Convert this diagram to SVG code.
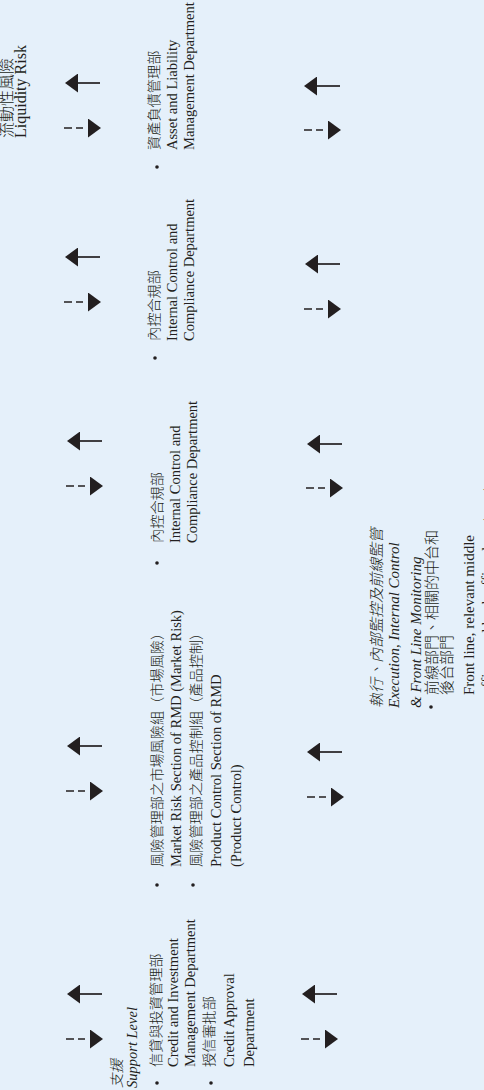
<svg xmlns="http://www.w3.org/2000/svg" width="484" height="1090" viewBox="0 0 484 1090">
<defs>
<style>
.t{font-family:"Liberation Serif","Noto Sans CJK TC",serif;font-size:14.5px;fill:#231F20}
.zh{font-size:14.2px;font-weight:300}
.lt{font-weight:300}
.it{font-style:italic}
.h{font-size:16px}
.r{font-size:15px}
.sol{stroke:#231F20;stroke-width:1.7;fill:none;marker-end:url(#head)}
.dsh{stroke:#231F20;stroke-width:1.7;fill:none;stroke-dasharray:8 4 7 5;marker-end:url(#head)}
.bul{fill:#231F20}
</style>
<marker id="head" viewBox="0 0 13 19" markerWidth="13" markerHeight="19" refX="0" refY="9.5" orient="auto" markerUnits="userSpaceOnUse">
<path d="M0,0 L13,9.5 L0,19 Z" fill="#231F20"/>
</marker>
</defs>
<rect width="484" height="1090" fill="#E5F0FA"/>

<g id="connectors">
<path class="sol" d="M100,83 H78"/>
<path class="dsh" d="M64,128 H88"/>
<path class="sol" d="M100,257 H78"/>
<path class="dsh" d="M64,302 H88"/>
<path class="sol" d="M102,441 H80"/>
<path class="dsh" d="M66,486 H90"/>
<path class="sol" d="M102,746 H80"/>
<path class="dsh" d="M66,791 H90"/>
<path class="sol" d="M102,994 H80"/>
<path class="dsh" d="M66,1039 H90"/>

<path class="sol" d="M340,86 H317"/>
<path class="dsh" d="M304,130 H328"/>
<path class="sol" d="M340,264 H318"/>
<path class="dsh" d="M304,309 H328"/>
<path class="sol" d="M342,444 H320"/>
<path class="dsh" d="M306,488 H330"/>
<path class="sol" d="M342,752 H320"/>
<path class="dsh" d="M307,797 H331"/>
<path class="sol" d="M337,994 H315"/>
<path class="dsh" d="M301,1039 H325"/>
</g>

<g id="node-liquidity">
<text class="t h" transform="translate(0,138) rotate(-90)"><tspan class="lt" x="0" y="12">流動性風險</tspan><tspan x="0" y="25.5">Liquidity Risk</tspan></text>
</g>

<g id="node-alm">
<circle class="bul" cx="157" cy="167" r="1.8"/>
<text class="t" transform="translate(0,150) rotate(-90)"><tspan class="zh" x="0" y="158.5">資產負債管理部</tspan><tspan x="0" y="176.5">Asset and Liability</tspan><tspan x="0" y="194">Management Department</tspan></text>
</g>

<g id="node-icd-1">
<circle class="bul" cx="155" cy="358" r="1.8"/>
<text class="t" transform="translate(0,341) rotate(-90)"><tspan class="zh" x="0" y="158.5">內控合規部</tspan><tspan x="0" y="176.5">Internal Control and</tspan><tspan x="0" y="194">Compliance Department</tspan></text>
</g>

<g id="node-icd-2">
<circle class="bul" cx="157" cy="563" r="1.8"/>
<text class="t" transform="translate(0,543) rotate(-90)"><tspan class="zh" x="0" y="162">內控合規部</tspan><tspan x="0" y="179.5">Internal Control and</tspan><tspan x="0" y="197">Compliance Department</tspan></text>
</g>

<g id="node-rmd">
<circle class="bul" cx="157" cy="885" r="1.8"/>
<circle class="bul" cx="193" cy="885" r="1.8"/>
<text class="t" transform="translate(0,867) rotate(-90)"><tspan class="zh" x="0" y="162">風險管理部之市場風險組（市場風險）</tspan><tspan x="0" y="180.5">Market Risk Section of RMD (Market Risk)</tspan><tspan class="zh" x="0" y="201">風險管理部之產品控制組（產品控制）</tspan><tspan x="0" y="221">Product Control Section of RMD</tspan><tspan x="0" y="240.5">(Product Control)</tspan></text>
</g>

<g id="node-support">
<circle class="bul" cx="157" cy="1083" r="1.8"/>
<circle class="bul" cx="211" cy="1083" r="1.8"/>
<text class="t" transform="translate(0,1088) rotate(-90)"><tspan class="it lt" x="0" y="122">支援</tspan><tspan class="it" x="0" y="137">Support Level</tspan><tspan class="zh" x="21" y="161">信貸與投資管理部</tspan><tspan x="21" y="178">Credit and Investment</tspan><tspan x="21" y="195">Management Department</tspan><tspan class="zh" x="21" y="214">授信審批部</tspan><tspan x="21" y="234">Credit Approval</tspan><tspan x="21" y="254">Department</tspan></text>
</g>

<g id="node-execution">
<circle class="bul" cx="431" cy="707" r="1.8"/>
<text class="t r" transform="translate(0,708) rotate(-90)"><tspan class="it lt" x="0" y="382">執行、內部監控及前線監管</tspan><tspan class="it" x="0" y="399">Execution, Internal Control</tspan><tspan class="it" x="0" y="421">&amp; Front Line Monitoring</tspan><tspan class="lt" x="13" y="437">前線部門、相關的中台和</tspan><tspan class="lt" x="13" y="452">後台部門</tspan><tspan x="13" y="474">Front line, relevant middle</tspan><tspan x="13" y="492">offices and back office departments</tspan></text>
</g>
</svg>
